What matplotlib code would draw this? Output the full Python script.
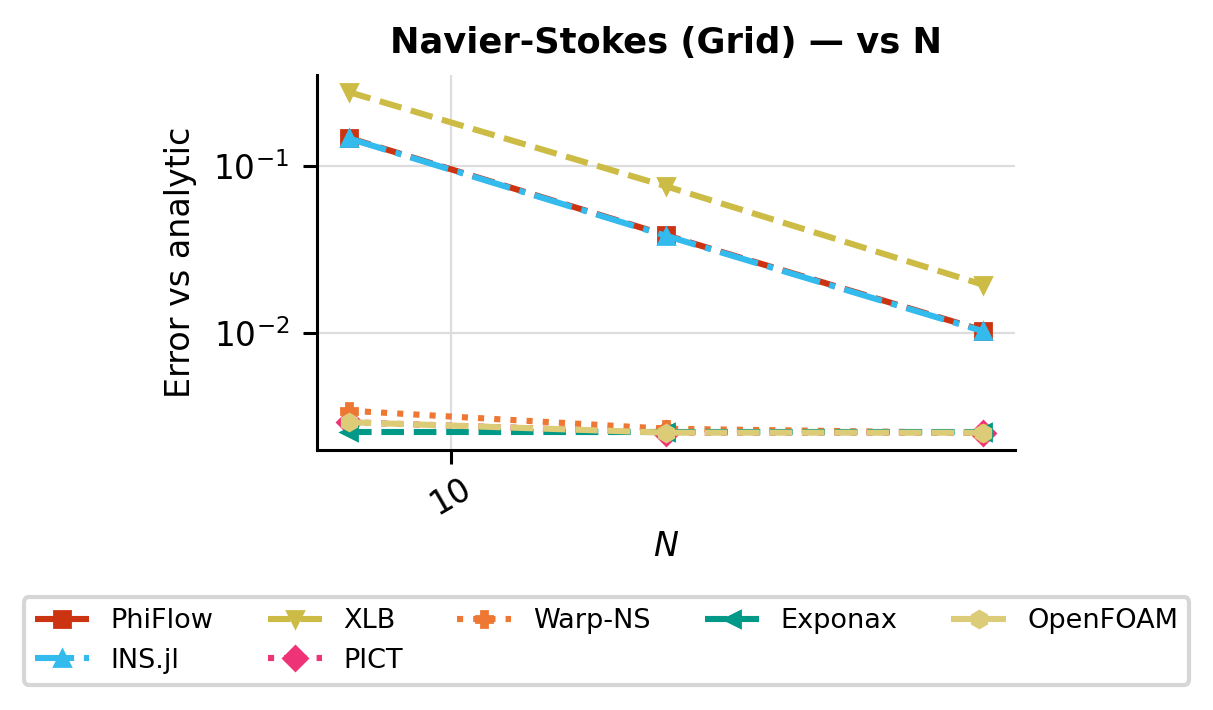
import matplotlib
matplotlib.use("Agg")
import matplotlib.pyplot as plt
from matplotlib.ticker import NullLocator, FixedLocator, FixedFormatter

# grid sizes
N = [8, 16, 32]

# error vs analytic
phiflow = [0.148, 0.0385, 0.0103]
ins_jl = [0.147, 0.0382, 0.0102]
xlb = [0.279, 0.0758, 0.0194]
pict = [0.0029, 0.00251, 0.00251]
warp_ns = [0.0034, 0.00265, 0.0025]
exponax = [0.00252, 0.00252, 0.00252]
openfoam = [0.0029, 0.00251, 0.00251]

x_ticks = [10]
x_ticklabels = ["10"]

series = [
    ("PhiFlow", phiflow, "#cc3311", "--", "s"),
    ("INS.jl", ins_jl, "#33bbee", "-.", "^"),
    ("XLB", xlb, "#ccbb44", "--", "v"),
    ("PICT", pict, "#ee3377", ":", "D"),
    ("Warp-NS", warp_ns, "#ee7733", ":", "P"),
    ("Exponax", exponax, "#009988", "--", "<"),
    ("OpenFOAM", openfoam, "#ddcc77", "--", "h"),
]

fig = plt.figure(figsize=(6.065, 3.55), dpi=200)
ax = fig.add_axes([0.2613, 0.3662, 0.5755, 0.5282])

for name, vals, color, ls, mk in series:
    ax.plot(N, vals, color=color, linestyle=ls, marker=mk, lw=2.2, ms=6, label=name)

ax.set_xscale("log")
ax.set_yscale("log")
ax.xaxis.set_major_locator(FixedLocator(x_ticks))
ax.xaxis.set_major_formatter(FixedFormatter(x_ticklabels))
ax.xaxis.set_minor_locator(NullLocator())
ax.yaxis.set_minor_locator(NullLocator())
ax.grid(True, which="major", color="#dddddd", lw=0.8)
ax.set_axisbelow(True)
for s in ["top", "right"]:
    ax.spines[s].set_visible(False)
for s in ["left", "bottom"]:
    ax.spines[s].set_linewidth(1.1)
ax.tick_params(width=1.1, length=5, labelsize=11.8)
ax.tick_params(axis="y", pad=5)
ax.tick_params(axis="x", pad=3)
plt.setp(ax.get_xticklabels(), rotation=30)

ax.set_title("Navier-Stokes (Grid) — vs N", fontsize=12.7, fontweight="bold", pad=8)
ax.set_xlabel("$N$", fontsize=12, labelpad=3)
ax.set_ylabel("Error vs analytic", fontsize=12, labelpad=6)

h, l = ax.get_legend_handles_labels()
leg = fig.legend(h, l, ncol=5, loc="center", fontsize=9.75,
                 bbox_to_anchor=(0.5, 1 - 641 / 710),
                 frameon=True, fancybox=True, edgecolor="#cccccc")
leg.get_frame().set_linewidth(1.5)

fig.savefig("out.png", dpi=200)
